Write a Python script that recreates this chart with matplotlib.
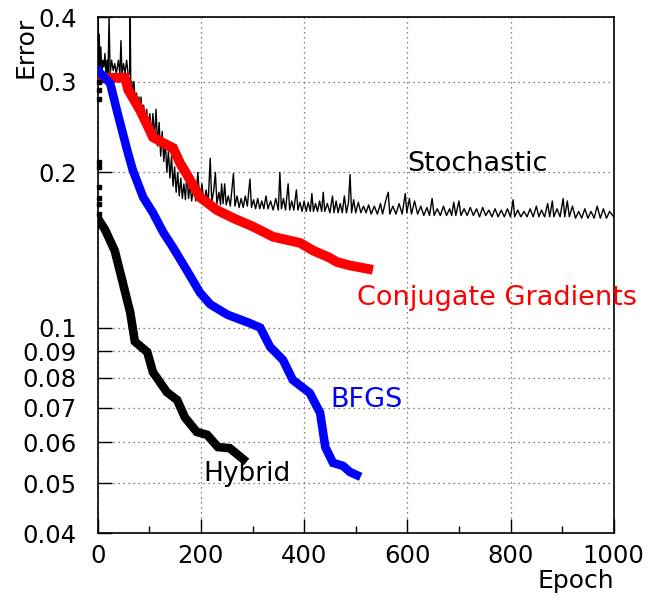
import matplotlib.pyplot as plt
from matplotlib.ticker import NullLocator, FixedLocator

# Hybrid (black, thick)
hybridEpoch = [0, 14, 33, 47, 63, 72, 96, 107, 134, 154, 169, 192, 212, 233, 256, 282]
hybridErr = [0.163, 0.155, 0.141, 0.124, 0.107, 0.094, 0.0897, 0.082, 0.075, 0.0724,
             0.067, 0.0628, 0.062, 0.0587, 0.0584, 0.0556]
# first few hybrid points sitting on the y axis
hybridStartErr = [0.3, 0.289, 0.278, 0.209, 0.205, 0.187, 0.178, 0.174, 0.166]

# BFGS (blue)
bfgsEpoch = [0, 24, 37, 57, 68, 88, 107, 127, 146, 173, 198, 218, 251, 295, 315,
             334, 359, 378, 411, 431, 441, 456, 475, 489, 502]
bfgsErr = [0.315, 0.298, 0.264, 0.221, 0.202, 0.179, 0.167, 0.153, 0.143, 0.129,
           0.117, 0.111, 0.106, 0.102, 0.1, 0.0918, 0.0866, 0.0792, 0.0747, 0.0684,
           0.0587, 0.0547, 0.054, 0.0525, 0.0518]

# Conjugate gradients (red)
cgEpoch = [0, 53, 59, 82, 96, 107, 127, 146, 160, 173, 198, 231, 263, 301, 340,
           392, 418, 447, 464, 489, 524]
cgErr = [0.305, 0.305, 0.289, 0.264, 0.247, 0.234, 0.228, 0.223, 0.208, 0.198,
         0.179, 0.169, 0.163, 0.157, 0.150, 0.146, 0.141, 0.137, 0.134, 0.132, 0.130]

# Stochastic (black, thin, noisy)
stochEpoch = [0, 1, 2, 3, 4, 6, 8, 10, 12, 14, 16, 18, 20, 22, 24, 27, 30, 33, 36, 40,
              43, 45, 47, 50, 53, 56, 59, 62, 63, 64, 66, 68, 70, 72, 75, 78, 80, 82, 84, 86,
              89, 92, 95, 98, 101, 104, 107, 110, 113, 116, 119, 122, 125, 128, 131, 134,
              137, 140, 143, 146, 149, 152, 155, 158, 161, 164, 167, 170, 173, 176, 179,
              182, 186, 190, 194, 198, 202, 206, 210, 214, 218, 221, 225, 228, 231, 235,
              238, 240, 243, 246, 249, 253, 257, 260, 263, 266, 270, 274, 278, 282, 286,
              290, 295, 298, 302, 306, 310, 314, 318, 322, 326, 330, 335, 340, 345, 350,
              353, 356, 360, 364, 369, 372, 376, 380, 385, 388, 392, 396, 400, 404, 408,
              412, 415, 418, 422, 426, 430, 434, 437, 440, 445, 450, 455, 458, 462, 466,
              470, 474, 478, 482, 486, 489, 492, 496, 500, 505, 510, 515, 520, 525, 530,
              536, 542, 548, 552, 558, 563, 566, 572, 578, 584, 590, 596, 599, 604, 608,
              614, 620, 626, 632, 638, 643, 648, 652, 658, 664, 670, 676, 682, 686, 690,
              694, 700, 704, 710, 716, 722, 728, 734, 740, 746, 752, 758, 764, 770, 776,
              782, 788, 794, 800, 805, 808, 814, 820, 826, 832, 838, 844, 850, 855, 860,
              866, 872, 876, 881, 884, 890, 896, 902, 905, 910, 914, 920, 926, 932, 938,
              944, 950, 956, 962, 968, 974, 980, 986, 992, 1000]
stochErr = [0.33, 0.40, 0.32, 0.37, 0.32, 0.35, 0.31, 0.33, 0.32, 0.34, 0.31, 0.33, 0.31,
            0.40, 0.31, 0.33, 0.315, 0.325, 0.31, 0.33, 0.31, 0.36, 0.31, 0.325, 0.31,
            0.33, 0.31, 0.31, 0.40, 0.30, 0.30, 0.29, 0.30, 0.28, 0.285, 0.27, 0.28,
            0.255, 0.28, 0.25, 0.27, 0.245, 0.265, 0.24, 0.26, 0.235, 0.26, 0.232, 0.265,
            0.225, 0.25, 0.215, 0.24, 0.21, 0.23, 0.20, 0.22, 0.195, 0.215, 0.188, 0.205,
            0.183, 0.20, 0.18, 0.195, 0.178, 0.19, 0.177, 0.20, 0.178, 0.19, 0.176, 0.188,
            0.176, 0.20, 0.175, 0.19, 0.174, 0.185, 0.174, 0.213, 0.175, 0.185, 0.20,
            0.174, 0.183, 0.173, 0.19, 0.174, 0.19, 0.173, 0.18, 0.172, 0.185, 0.199,
            0.172, 0.18, 0.171, 0.178, 0.171, 0.18, 0.172, 0.194, 0.171, 0.177, 0.17,
            0.178, 0.17, 0.176, 0.17, 0.18, 0.17, 0.176, 0.169, 0.178, 0.169, 0.20, 0.17,
            0.178, 0.169, 0.19, 0.169, 0.176, 0.169, 0.185, 0.169, 0.175, 0.168, 0.176,
            0.168, 0.175, 0.168, 0.182, 0.168, 0.174, 0.168, 0.176, 0.168, 0.183, 0.168,
            0.174, 0.167, 0.18, 0.167, 0.176, 0.167, 0.174, 0.167, 0.18, 0.167, 0.175,
            0.198, 0.167, 0.177, 0.167, 0.175, 0.167, 0.172, 0.167, 0.173, 0.166, 0.172,
            0.166, 0.174, 0.166, 0.176, 0.183, 0.166, 0.172, 0.166, 0.174, 0.166, 0.182,
            0.167, 0.178, 0.166, 0.176, 0.166, 0.172, 0.165, 0.171, 0.165, 0.178, 0.165,
            0.17, 0.165, 0.172, 0.165, 0.17, 0.165, 0.175, 0.165, 0.176, 0.165, 0.17,
            0.165, 0.171, 0.165, 0.17, 0.164, 0.171, 0.165, 0.169, 0.164, 0.17, 0.164,
            0.169, 0.164, 0.17, 0.164, 0.177, 0.164, 0.169, 0.164, 0.168, 0.164, 0.17,
            0.164, 0.172, 0.164, 0.169, 0.164, 0.174, 0.164, 0.176, 0.164, 0.17, 0.164,
            0.178, 0.164, 0.176, 0.164, 0.172, 0.163, 0.168, 0.163, 0.17, 0.163, 0.168,
            0.163, 0.172, 0.163, 0.17, 0.163, 0.168, 0.164]

yTicks = [0.04, 0.05, 0.06, 0.07, 0.08, 0.09, 0.1, 0.2, 0.3, 0.4]
yTickLabels = ["0.04", "0.05", "0.06", "0.07", "0.08", "0.09", "0.1", "0.2", "0.3", "0.4"]
xTicks = [0, 200, 400, 600, 800, 1000]

fig = plt.figure(figsize=(6.48, 6.02), dpi=100)
ax = fig.add_axes([0.1508, 0.1146, 0.7963, 0.8571])

ax.plot(stochEpoch, stochErr, color="black", lw=1.0, zorder=3)
ax.plot(cgEpoch, cgErr, color="red", lw=7, zorder=4, solid_joinstyle="miter")
ax.plot(bfgsEpoch, bfgsErr, color="blue", lw=6.2, zorder=5, solid_joinstyle="miter")
ax.plot(hybridEpoch, hybridErr, color="black", lw=6.2, zorder=5, solid_joinstyle="miter")
ax.plot([2] * len(hybridStartErr), hybridStartErr, ls="none", marker="s", ms=3.5,
        color="black", zorder=6, clip_on=False)

ax.set_yscale("log")
ax.set_xlim(0, 1000)
ax.set_ylim(0.04, 0.4)
ax.yaxis.set_major_locator(FixedLocator(yTicks))
ax.yaxis.set_minor_locator(NullLocator())
ax.set_yticklabels(yTickLabels)
ax.set_xticks(xTicks)
ax.xaxis.set_minor_locator(FixedLocator([100, 300, 500, 700, 900]))
ax.tick_params(axis="both", which="major", direction="in", length=10, width=1,
               labelsize=17.5)
ax.tick_params(axis="y", which="major", pad=15)
ax.tick_params(axis="x", which="major", pad=8)
ax.tick_params(axis="x", which="minor", direction="in", length=5, width=1)
ax.grid(True, which="major", color="0.35", linestyle=(0, (1, 3)), lw=0.9)
for s in ax.spines.values():
    s.set_linewidth(1.2)

ax.text(1.0, -0.07, "Epoch", transform=ax.transAxes, ha="right", va="top", fontsize=18)
ax.text(-0.14, 1.0, "Error", transform=ax.transAxes, ha="center", va="top",
        rotation=90, fontsize=18)

ax.text(600, 0.208, "Stochastic", color="black", fontsize=19.5, va="center")
ax.text(503, 0.114, "Conjugate Gradients", color="red", fontsize=19.5, va="center",
        clip_on=False)
ax.text(450, 0.0724, "BFGS", color="blue", fontsize=19.5, va="center")
ax.text(204, 0.052, "Hybrid", color="black", fontsize=19, va="center")

fig.savefig("out.png", dpi=100)
